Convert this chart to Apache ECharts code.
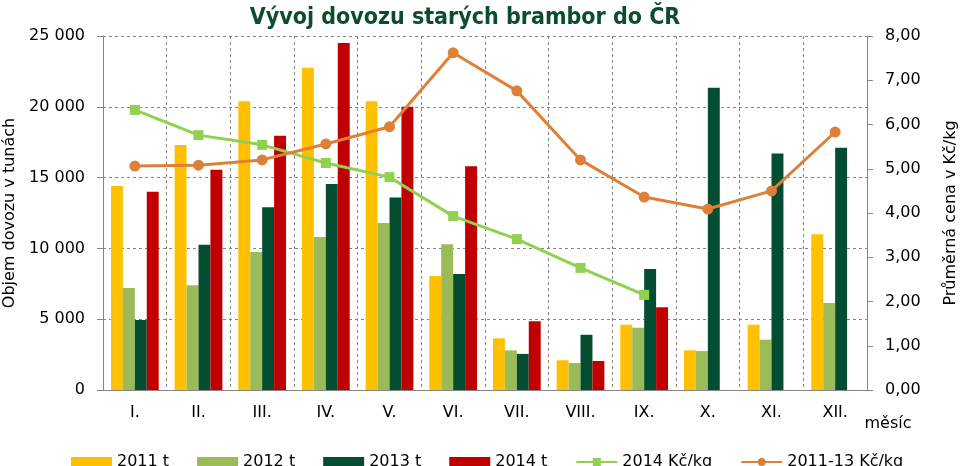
<!DOCTYPE html>
<html>
<head>
<meta charset="utf-8">
<script src="https://cdn.jsdelivr.net/npm/echarts@6/dist/echarts.min.js"></script>
<style>html,body{margin:0;padding:0;background:#fff}#c{width:963px;height:466px}</style>
</head>
<body>
<div id="c"></div>
<script>
const categories = ['I.', 'II.', 'III.', 'IV.', 'V.', 'VI.', 'VII.', 'VIII.', 'IX.', 'X.', 'XI.', 'XII.'];
const t2011 = [14400, 17300, 20400, 22750, 20400, 8050, 3650, 2100, 4600, 2800, 4600, 11000];
const t2012 = [7200, 7400, 9750, 10800, 11800, 10300, 2800, 1900, 4400, 2750, 3550, 6150];
const t2013 = [4950, 10250, 12900, 14550, 13600, 8200, 2550, 3900, 8550, 21350, 16700, 17100];
const t2014 = [14000, 15550, 17950, 24500, 20000, 15800, 4850, 2050, 5850, null, null, null];
const price2014 = [6.33, 5.76, 5.54, 5.13, 4.81, 3.93, 3.41, 2.76, 2.15, null, null, null];
const price2011_13 = [5.06, 5.08, 5.20, 5.56, 5.95, 7.62, 6.76, 5.20, 4.36, 4.09, 4.50, 5.83];

const FONT = 'DejaVu Sans';
const GRAY = '#868686';
const chart = echarts.init(document.getElementById('c'));
const barSeries = (name, data, color) => ({
  name, type: 'bar', data, yAxisIndex: 0,
  itemStyle: { color }, barGap: '0%', barCategoryGap: '25%'
});
chart.setOption({
  animation: false,
  textStyle: { fontFamily: FONT },
  title: {
    text: 'Vývoj dovozu starých brambor do ČR',
    left: 460, textAlign: 'center', top: 2,
    textStyle: { fontFamily: 'DejaVu Sans Condensed', fontWeight: 'bold', fontSize: 23, color: '#0B4D2E' }
  },
  legend: {
    left: 66, top: 449, itemWidth: 41, itemHeight: 10, itemGap: 28,
    textStyle: { fontFamily: FONT, fontSize: 16, color: '#000' },
    data: [
      { name: '2011 t', icon: 'rect' },
      { name: '2012 t', icon: 'rect' },
      { name: '2013 t', icon: 'rect' },
      { name: '2014 t', icon: 'rect' },
      '2014 Kč/kg', '2011-13 Kč/kg'
    ]
  },
  grid: { left: 103, right: 96, top: 36, bottom: 76, containLabel: false, outerBoundsMode: 'none' },
  xAxis: {
    type: 'category', data: categories,
    name: 'měsíc', nameLocation: 'end', nameGap: 21,
    nameTextStyle: { fontFamily: FONT, fontSize: 16, color: '#000', align: 'center', verticalAlign: 'top', padding: [26, 0, 0, 0] },
    axisLine: { lineStyle: { color: GRAY, width: 1 } },
    axisTick: { show: false },
    axisLabel: { fontFamily: FONT, fontSize: 16, color: '#000', margin: 15 },
    splitLine: { show: true, lineStyle: { color: GRAY, type: [3, 3], width: 1 } }
  },
  yAxis: [
    {
      type: 'value', min: 0, max: 25000, interval: 5000,
      name: 'Objem dovozu v tunách', nameLocation: 'middle', nameGap: 82, nameRotate: 90,
      nameTextStyle: { fontFamily: FONT, fontSize: 16, color: '#000' },
      axisLine: { show: true, lineStyle: { color: GRAY } },
      axisTick: { show: true, length: 6, lineStyle: { color: GRAY } },
      axisLabel: { fontFamily: FONT, fontSize: 16, color: '#000', margin: 18,
        formatter: v => String(v).replace(/\B(?=(\d{3})+(?!\d))/g, ' ') },
      splitLine: { show: true, lineStyle: { color: GRAY, type: [3, 3], width: 1 } }
    },
    {
      type: 'value', min: 0, max: 8, interval: 1, position: 'right',
      name: 'Průměrná cena v Kč/kg', nameLocation: 'middle', nameGap: 76, nameRotate: 90,
      nameTextStyle: { fontFamily: FONT, fontSize: 16, color: '#000' },
      axisLine: { show: true, lineStyle: { color: GRAY } },
      axisTick: { show: true, length: 6, lineStyle: { color: GRAY } },
      axisLabel: { fontFamily: FONT, fontSize: 16, color: '#000', margin: 18,
        formatter: v => v.toFixed(2).replace('.', ',') },
      splitLine: { show: false }
    }
  ],
  series: [
    barSeries('2011 t', t2011, '#FFC000'),
    barSeries('2012 t', t2012, '#9BBB59'),
    barSeries('2013 t', t2013, '#044D30'),
    barSeries('2014 t', t2014, '#C00000'),
    {
      name: '2014 Kč/kg', type: 'line', yAxisIndex: 1, data: price2014,
      symbol: 'rect', symbolSize: 10, color: '#92D050',
      lineStyle: { color: '#92D050', width: 3 }, itemStyle: { color: '#92D050' }, z: 5
    },
    {
      name: '2011-13 Kč/kg', type: 'line', yAxisIndex: 1, data: price2011_13,
      symbol: 'circle', symbolSize: 11, color: '#DD8139',
      lineStyle: { color: '#DD8139', width: 3 }, itemStyle: { color: '#DD8139' }, z: 5
    }
  ]
});
</script>
</body>
</html>
